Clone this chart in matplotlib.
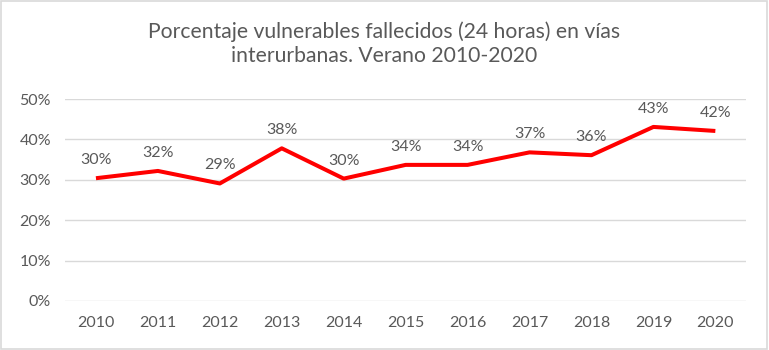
import matplotlib
matplotlib.use("Agg")
import matplotlib.pyplot as plt
from matplotlib.ticker import PercentFormatter

years = ["2010", "2011", "2012", "2013", "2014", "2015", "2016", "2017", "2018", "2019", "2020"]
values = [30.4, 32.2, 29.1, 37.8, 30.3, 33.7, 33.7, 36.8, 36.1, 43.1, 42.1]
y_ticks = [0, 10, 20, 30, 40, 50]
title = "Porcentaje vulnerables fallecidos (24 horas) en vías\ninterurbanas. Verano 2010-2020"

text_color = "#595959"
plt.rcParams['font.family'] = ['Lato', 'DejaVu Sans']

fig = plt.figure(figsize=(7.69, 3.5), dpi=100)
ax = fig.add_axes([0.0845, 0.14, 0.886, 0.577])

x = list(range(len(years)))
ax.plot(x, values, color="#FF0000", linewidth=2.9, solid_capstyle="butt")

for xi, v in zip(x, values):
    ax.annotate(f"{v:.0f}%", (xi, v), xytext=(0, 8), textcoords="offset points",
                ha="center", va="bottom", fontsize=11.5, color=text_color)

ax.set_xlim(-0.5, len(years) - 0.5)
ax.set_ylim(0, 50)
ax.set_yticks(y_ticks)
ax.yaxis.set_major_formatter(PercentFormatter(decimals=0))
ax.set_xticks(x)
ax.set_xticklabels(years)
ax.tick_params(axis="both", length=0, labelsize=11.5, labelcolor=text_color)
ax.tick_params(axis="x", pad=11)
ax.tick_params(axis="y", pad=10)
ax.grid(axis="y", color="#D9D9D9", linewidth=1)
ax.set_axisbelow(True)
for s in ax.spines.values():
    s.set_visible(False)

fig.text(0.5, 0.94, title, ha="center", va="top", fontsize=15.2, color=text_color,
         linespacing=1.3)

border = plt.Rectangle((0.001, 0.002), 0.997, 0.995, transform=fig.transFigure,
                       fill=False, edgecolor="#D9D9D9", linewidth=1.2)
fig.patches.append(border)

fig.savefig("out.png", dpi=100)
